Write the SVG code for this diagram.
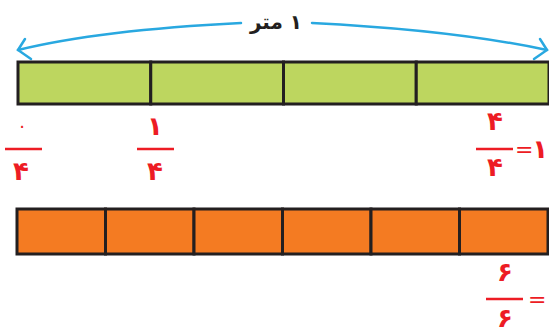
<svg xmlns="http://www.w3.org/2000/svg" width="549" height="334" viewBox="0 0 549 334">
<style>
.cell{stroke:#231f20;stroke-width:3}
.g{fill:#bdd65f}
.o{fill:#f47b22}
.arc{fill:none;stroke:#29a8e0;stroke-width:2.5;stroke-linecap:round}
.fl{stroke:#ed1c24;stroke-width:2.5}
.num{font-family:"DejaVu Sans",sans-serif;font-weight:bold;font-size:26px;fill:#ed1c24;text-anchor:middle}
.eq{font-family:"DejaVu Sans",sans-serif;font-size:22px;fill:#ed1c24}
.lbl{font-family:"DejaVu Sans",sans-serif;font-weight:bold;font-size:20px;fill:#231f20;text-anchor:middle}
</style>
<g id="connectors">
<path class="arc" d="M18,50 Q100,30 241,23"/>
<path class="arc" d="M312,23 Q453,30 547,50"/>
<polyline class="arc" points="25,39 18,50 31,59"/>
<polyline class="arc" points="540,39 547,50 534,59"/>
</g>
<g id="label-meter"><text class="lbl" x="276" y="29" direction="rtl" unicode-bidi="embed">۱ متر</text></g>
<g id="green-bar">
<rect class="cell g" x="18" y="62" width="132.75" height="42"/>
<rect class="cell g" x="150.75" y="62" width="132.75" height="42"/>
<rect class="cell g" x="283.5" y="62" width="132.75" height="42"/>
<rect class="cell g" x="416.25" y="62" width="132.75" height="42"/>
</g>
<g id="frac-0-4">
<text class="num" x="22" y="132" style="font-size:18px;font-weight:normal">۰</text>
<line class="fl" x1="5" y1="149" x2="42" y2="149"/>
<text class="num" x="21" y="180">۴</text>
</g>
<g id="frac-1-4">
<text class="num" x="155" y="135">۱</text>
<line class="fl" x1="137" y1="149" x2="174" y2="149"/>
<text class="num" x="155" y="180">۴</text>
</g>
<g id="frac-4-4">
<text class="num" x="495" y="130">۴</text>
<line class="fl" x1="476" y1="149" x2="513" y2="149"/>
<text class="num" x="495" y="176">۴</text>
<text class="eq" x="515" y="157">=</text>
<text class="num" x="548" y="158" style="text-anchor:end">۱</text>
</g>
<g id="orange-bar">
<rect class="cell o" x="17" y="209" width="88.5" height="45"/>
<rect class="cell o" x="105.5" y="209" width="88.5" height="45"/>
<rect class="cell o" x="194" y="209" width="88.5" height="45"/>
<rect class="cell o" x="282.5" y="209" width="88.5" height="45"/>
<rect class="cell o" x="371" y="209" width="88.5" height="45"/>
<rect class="cell o" x="459.5" y="209" width="88.5" height="45"/>
</g>
<g id="frac-6-6">
<text class="num" x="505" y="281">۶</text>
<line class="fl" x1="486" y1="299" x2="523" y2="299"/>
<text class="num" x="505" y="327">۶</text>
<text class="eq" x="528" y="307">=</text>
</g>
</svg>
